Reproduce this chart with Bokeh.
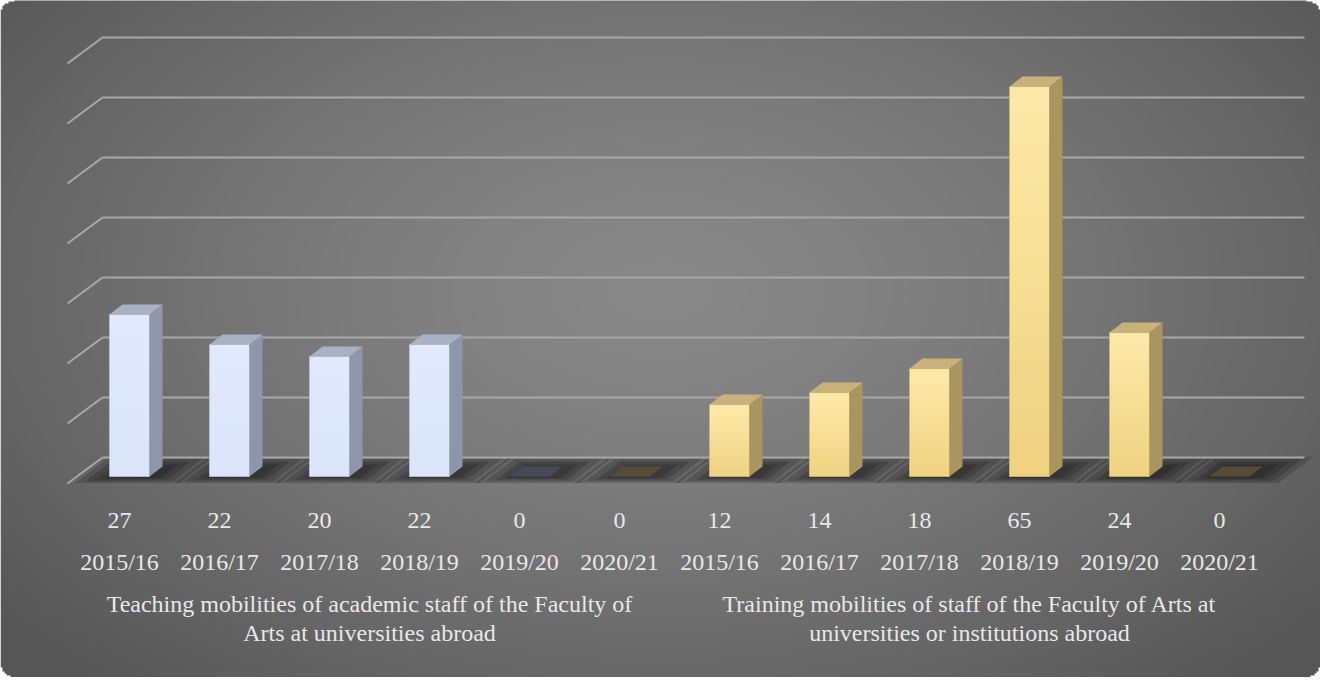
import numpy as np
from bokeh.plotting import figure
from bokeh.models import Range1d, ColumnDataSource
from bokeh.embed import file_html
from bokeh.resources import INLINE
from bokeh.core.properties import value

# ---------------- data ----------------
years = ["2015/16", "2016/17", "2017/18", "2018/19", "2019/20", "2020/21",
         "2015/16", "2016/17", "2017/18", "2018/19", "2019/20", "2020/21"]
counts = [27, 22, 20, 22, 0, 0, 12, 14, 18, 65, 24, 0]
series = ["teach"] * 5 + ["train"] * 7
group_lines = [
    ["Teaching mobilities of academic staff of the Faculty of", "Arts at universities abroad"],
    ["Training mobilities of staff of the Faculty of Arts at", "universities or institutions abroad"],
]
group_members = [[0, 1, 2, 3, 4, 5], [6, 7, 8, 9, 10, 11]]
grid_values = [0, 10, 20, 30, 40, 50, 60, 70]

# ---------------- styles ----------------
front_top = {"teach": (225, 234, 252), "train": (255, 233, 168)}
front_bot = {"teach": (219, 229, 250), "train": (238, 210, 128)}
edge_col = {"teach": "#b8c2d6", "train": "#cdb46c"}
side_col = {"teach": "#8e97a9", "train": "#a8955f"}
top_col = {"teach": "#a9b2c2", "train": "#c8b17b"}
zero_col = {"teach": "#454b56", "train": "#574c36"}
TXT = "#e8e8e8"
FONT = value("Liberation Serif")

W, H = 1320, 677
PX, PY = 100.0, 6.0          # pixels per data unit
X0, Y0 = -1.19, -33.5
p = figure(width=W, height=H, x_range=Range1d(X0, X0 + W / PX),
           y_range=Range1d(Y0, Y0 + H / PY), output_backend="svg",
           toolbar_location=None, min_border=0)
p.axis.visible = False
p.grid.visible = False
p.outline_line_color = None
p.border_fill_color = "#ffffff"
p.background_fill_color = "#ffffff"

# ---------------- background (rounded rect with radial gradient) ----------------
s = 2
hh, ww = H // s + 1, W // s
yy, xx = np.mgrid[0:hh, 0:ww].astype(float)
px_ = xx * s + s / 2
py_ = H - (yy * s + s / 2)      # from top
t = np.sqrt(((px_ - 660) / 780) ** 2 + ((py_ - 290) / 480) ** 2)
t = np.clip(t, 0, 1.15)
g = 136 - 44 * (t ** 1.4)
g = np.clip(g, 86, 140).astype(np.uint32)
r = 15.0
cx = np.clip(px_, r, W - r)
cy = np.clip(py_, r, H - r)
inside = ((px_ - cx) ** 2 + (py_ - cy) ** 2) <= r * r
alpha = np.where(inside, 255, 0).astype(np.uint32)
img = (alpha << 24) | (g << 16) | (g << 8) | g
p.image_rgba(image=[img.astype(np.uint32)], x=X0, y=Y0, dw=ww * s / PX, dh=hh * s / PY)

# ---------------- geometry helpers ----------------
BX = 0.10           # bar front centre offset from label centre
BH = 0.20           # half width of bar front
DX, DY = 13 / PX, 10 / PY       # bar depth
WX, WY = 25 / PX, 19 / PY       # back wall offset
FX, FY = -10 / PX, -7 / PY      # floor front offset
SLOPE = (13 / 10) * PY / PX     # x shift per y unit along depth

n = len(counts)
idx = np.arange(n)

# ---------------- floor shadow ----------------
sh_xs, sh_ys = [], []
for i in idx:
    for (hw, y_lo, y_hi) in [(0.52, -1.1, 3.3), (0.44, -0.8, 2.9), (0.35, -0.5, 2.5), (0.27, -0.3, 2.0)]:
        c = i + BX + 0.06
        sh_xs.append([c - hw + y_lo * SLOPE, c + hw + y_lo * SLOPE,
                      c + hw + y_hi * SLOPE, c - hw + y_hi * SLOPE])
        sh_ys.append([y_lo, y_lo, y_hi, y_hi])
p.patches(sh_xs, sh_ys, fill_color="black", fill_alpha=0.17, line_color=None)

# ---------------- gridlines on back wall + left diagonals ----------------
gx0, gx1 = -0.17, 11.85
p.multi_line([[gx0, gx1] for v in grid_values], [[v + WY, v + WY] for v in grid_values],
             line_color="#a8a8a8", line_width=2)
p.multi_line([[gx0 - (WX - FX), gx0] for v in grid_values],
             [[v + FY, v + WY] for v in grid_values],
             line_color="#a8a8a8", line_width=2)

# ---------------- bars ----------------
NS = 16
fq = dict(left=[], right=[], bottom=[], top=[], color=[])
for i in idx:
    v = counts[i]
    if v <= 0:
        continue
    a = np.array(front_bot[series[i]], float)
    b = np.array(front_top[series[i]], float)
    for k in range(NS):
        f = (k + 0.5) / NS
        c = a + (b - a) * f
        fq["left"].append(i + BX - BH)
        fq["right"].append(i + BX + BH)
        fq["bottom"].append(max(0.0, v * k / NS - 0.4))
        fq["top"].append(v * (k + 1) / NS)
        fq["color"].append("#%02x%02x%02x" % tuple(int(round(x)) for x in c))
p.quad(source=ColumnDataSource(fq), left="left", right="right", bottom="bottom",
       top="top", fill_color="color", line_color=None)

pos = [i for i in idx if counts[i] > 0]
p.quad(left=[i + BX - BH for i in pos], right=[i + BX + BH for i in pos],
       bottom=[0] * len(pos), top=[counts[i] for i in pos], fill_color=None,
       line_color=[edge_col[series[i]] for i in pos], line_width=1, line_alpha=0.8)

side_xs, side_ys, side_c = [], [], []
top_xs, top_ys, top_c = [], [], []
for i in idx:
    v = counts[i]
    l, rr = i + BX - BH, i + BX + BH
    if v > 0:
        side_xs.append([rr, rr + DX, rr + DX, rr])
        side_ys.append([0, DY, v + DY, v])
        side_c.append(side_col[series[i]])
        top_c.append(top_col[series[i]])
    else:
        top_c.append(zero_col[series[i]])
    top_xs.append([l, rr, rr + DX, l + DX])
    top_ys.append([v, v, v + DY, v + DY])
p.patches(side_xs, side_ys, fill_color=side_c, line_color=None)
p.patches(top_xs, top_ys, fill_color=top_c, line_color=None)

# ---------------- labels ----------------
p.text(x=list(idx), y=[-7.33] * n, text=[str(v) for v in counts], text_font=FONT,
       text_font_size="24px", text_color=TXT, text_align="center", text_baseline="alphabetic")
p.text(x=list(idx), y=[-14.33] * n, text=years, text_font=FONT,
       text_font_size="24px", text_color=TXT, text_align="center", text_baseline="alphabetic")
gx, gy, gt = [], [], []
for lines, mem in zip(group_lines, group_members):
    c = float(np.mean(mem))
    for j, line in enumerate(lines):
        gx.append(c)
        gy.append(-21.33 - j * 4.67)
        gt.append(line)
p.text(x=gx, y=gy, text=gt, text_font=FONT, text_font_size="24px", text_color=TXT,
       text_align="center", text_baseline="alphabetic")

open("out.html", "w").write(file_html(p, INLINE))
